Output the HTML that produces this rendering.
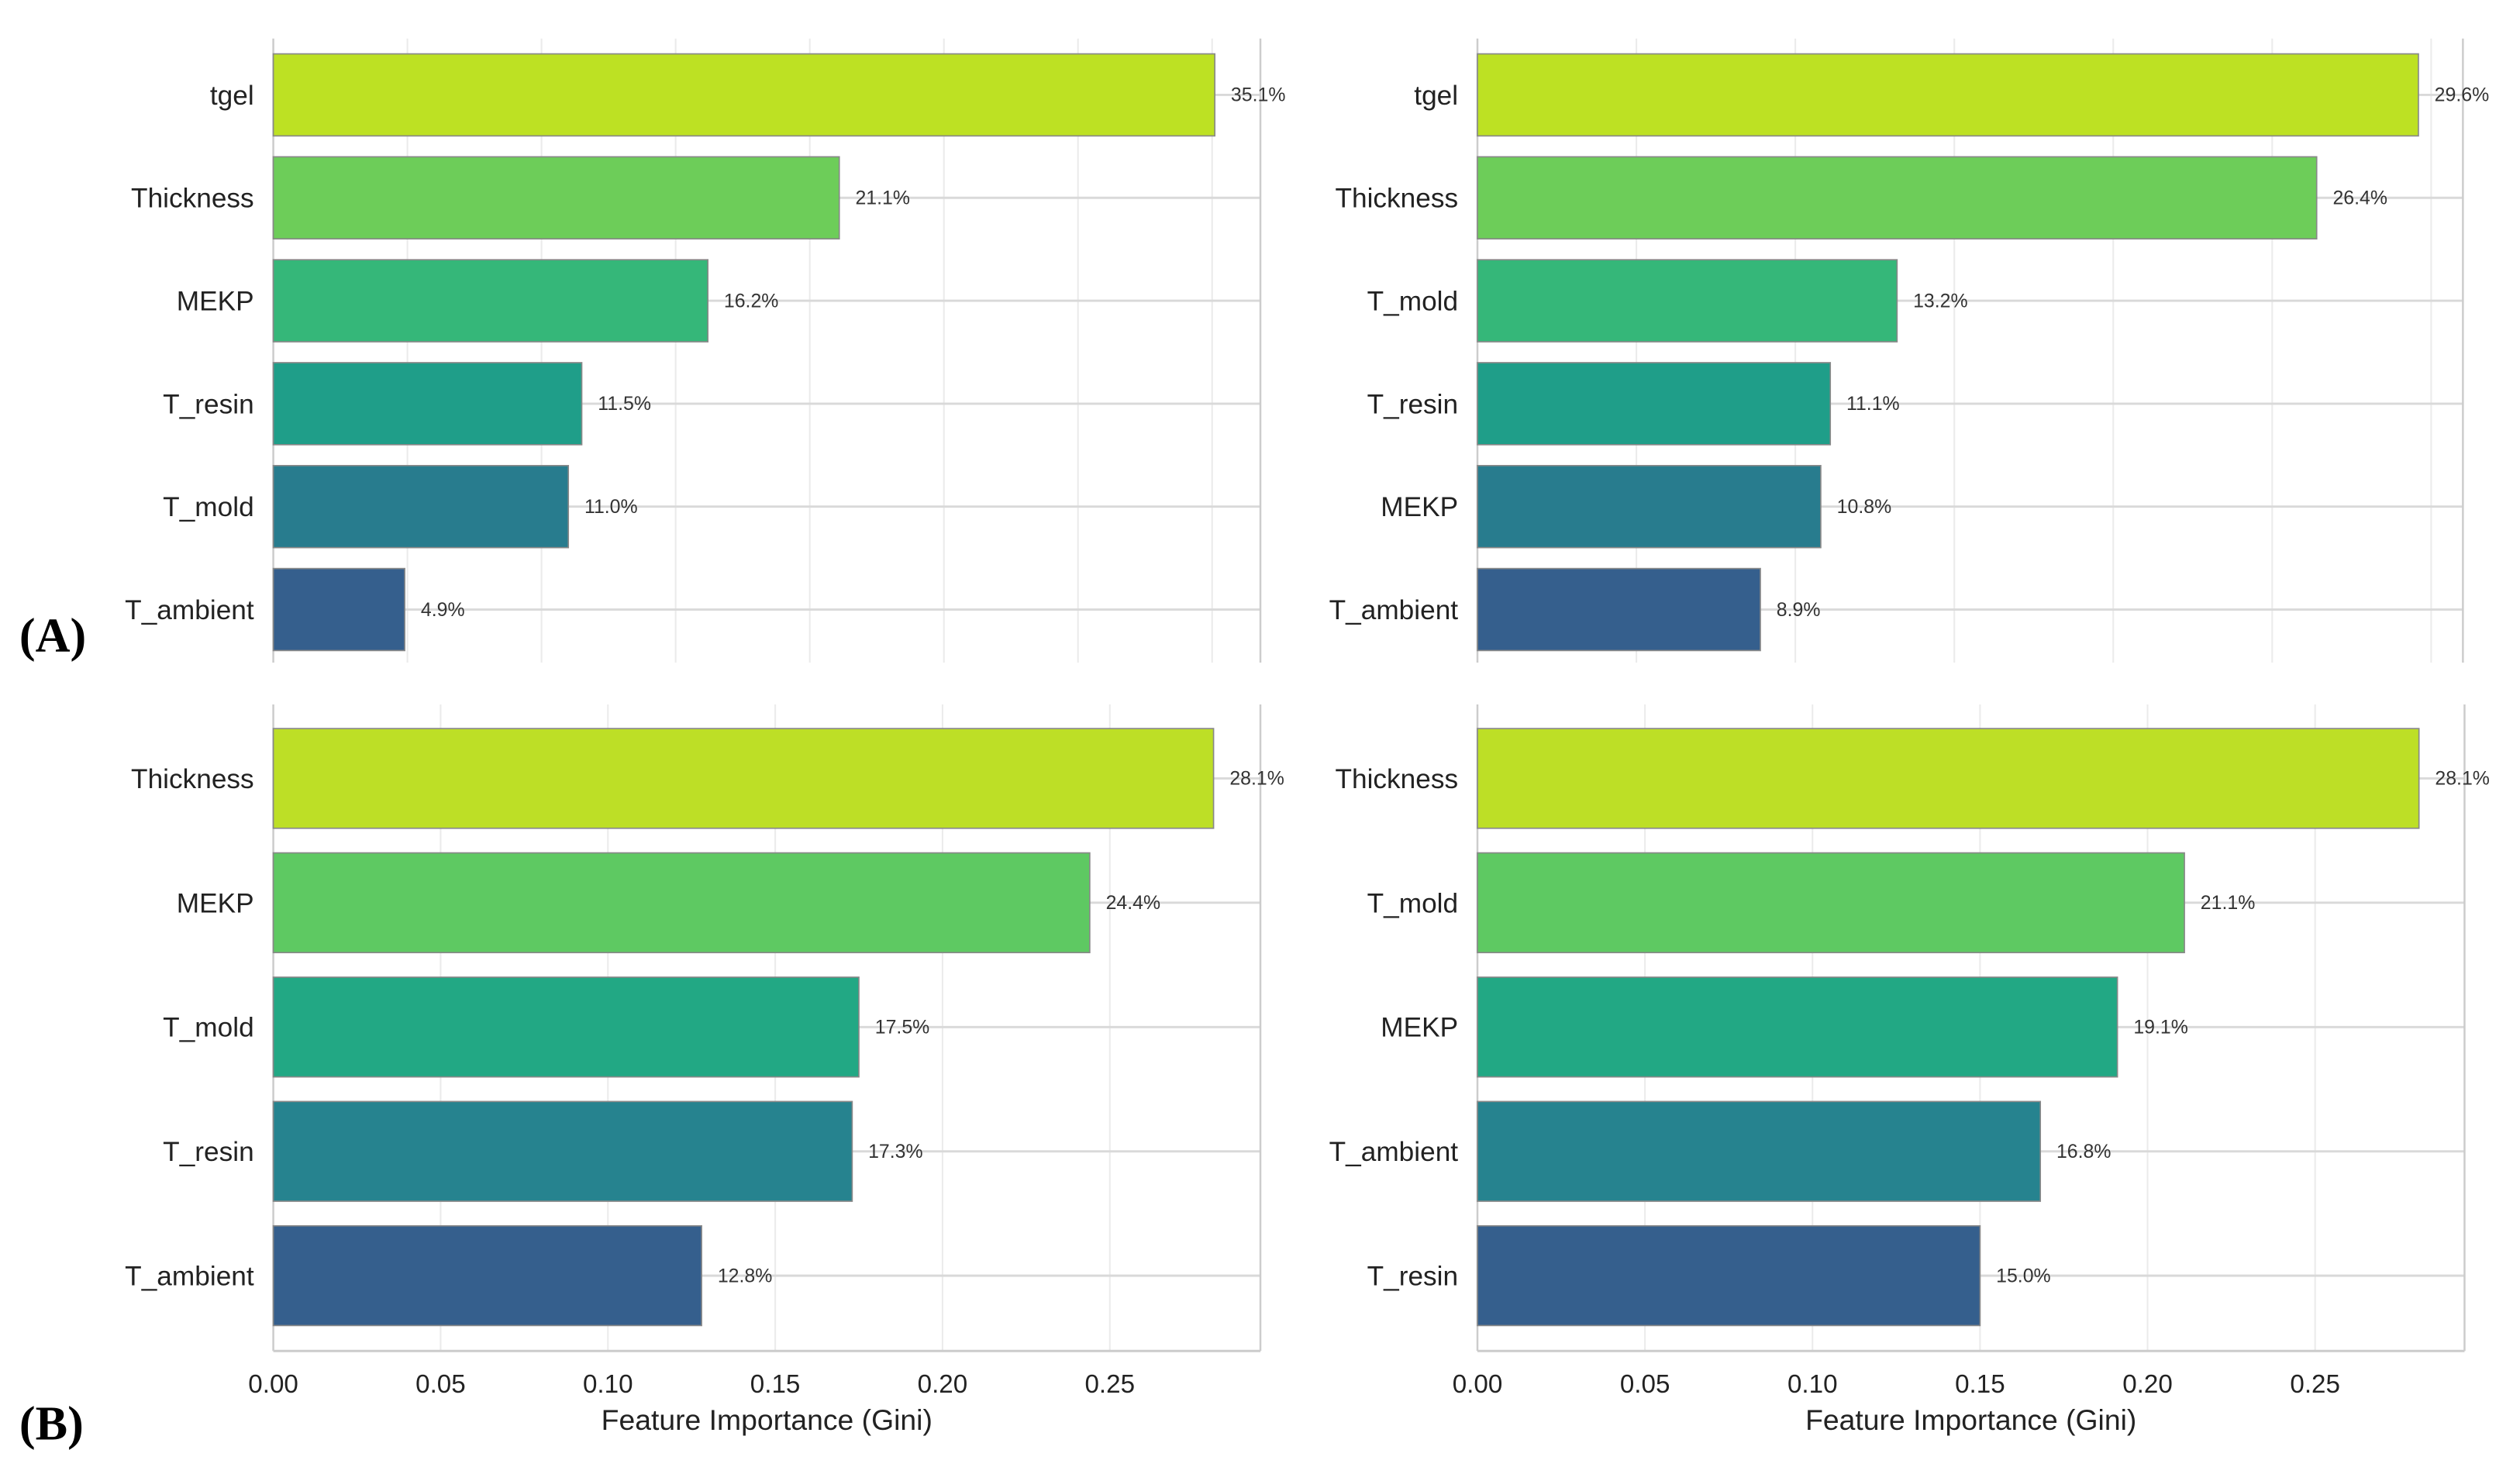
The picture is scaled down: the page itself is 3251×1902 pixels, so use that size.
<!DOCTYPE html>
<html><head><meta charset="utf-8"><style>
html,body{margin:0;padding:0;background:#fff;}
svg{display:block;font-family:"Liberation Sans",Arial,sans-serif;}
</style></head><body>
<svg id="chart" width="3251" height="1902" viewBox="0 0 1567.5 916.5" preserveAspectRatio="none" xmlns="http://www.w3.org/2000/svg">
<text x="12" y="405" font-family="Liberation Serif,serif" font-weight="bold" font-size="30" fill="#000">(A)</text>
<text x="12" y="895" font-family="Liberation Serif,serif" font-weight="bold" font-size="30" fill="#000">(B)</text>
</svg>
<script>
const tlCategories = ["tgel","Thickness","MEKP","T_resin","T_mold","T_ambient"];
const tlValues = [0.351,0.211,0.162,0.115,0.110,0.049];
const trCategories = ["tgel","Thickness","T_mold","T_resin","MEKP","T_ambient"];
const trValues = [0.296,0.264,0.132,0.111,0.108,0.089];
const blCategories = ["Thickness","MEKP","T_mold","T_resin","T_ambient"];
const blValues = [0.281,0.244,0.175,0.173,0.128];
const brCategories = ["Thickness","T_mold","MEKP","T_ambient","T_resin"];
const brValues = [0.281,0.211,0.191,0.168,0.150];
const tickValues = [0,0.05,0.10,0.15,0.20,0.25];
const tickLabels = ["0.00","0.05","0.10","0.15","0.20","0.25"];
const xTitle = "Feature Importance (Gini)";

const colors6 = ["#bde123","#6dcd59","#35b779","#1f9e89","#287c8e","#355f8d"];
const colors5 = ["#bddf26","#5ec962","#22a884","#26838f","#355f8d"];
const NS = "http://www.w3.org/2000/svg";
const svg = document.getElementById('chart');
function mk(tag, attrs, parent){const e=document.createElementNS(NS,tag);for(const k in attrs)e.setAttribute(k,attrs[k]);(parent||svg).appendChild(e);return e;}

function panel(id, cats, vals, colors, x0, x1, y0, y1, xmax, c0, step, barH, showTicks){
  const g = mk('g',{});
  
  
  const xs = v => x0 + v/xmax*(x1-x0);
  for(let t=0.05;t<xmax;t+=0.05){
    const gl = mk('line',{x1:xs(t),x2:xs(t),y1:y0,y2:y1,stroke:'#ebebeb','stroke-width':1},g);
    
    
  }
  cats.forEach((c,i)=>{
    const cy = c0 + step*i;
    const hl = mk('line',{x1:x0,x2:x1,y1:cy,y2:cy,stroke:'#d9d9d9','stroke-width':1.4},g);
    
    
  });
  const sl = mk('line',{x1:x0,x2:x0,y1:y0,y2:y1,stroke:'#cccccc','stroke-width':1.2},g);
  
  
  const sr = mk('line',{x1:x1,x2:x1,y1:y0,y2:y1,stroke:'#cccccc','stroke-width':1.2},g);
  
  
  if(showTicks){
    const sb = mk('line',{x1:x0,x2:x1,y1:y1,y2:y1,stroke:'#cccccc','stroke-width':1.4},g);
    
    
  }
  cats.forEach((c,i)=>{
    const cy = c0 + step*i;
    const r = mk('rect',{x:x0,y:cy-barH/2,width:xs(vals[i])-x0,height:barH,fill:colors[i],stroke:'#888','stroke-width':0.8},g);
    
    
    const lab = mk('text',{x:x0-12,y:cy+6,'text-anchor':'end','font-size':17,fill:'#222'},g);
    lab.textContent = c;
    
    
    const vl = mk('text',{x:xs(vals[i])+10,y:cy+4,'font-size':12,fill:'#333'},g);
    vl.textContent = (vals[i]*100).toFixed(1)+'%';
    
    
  });
  if(showTicks){
    tickValues.forEach((t,i)=>{
      const tl = mk('text',{x:xs(t),y:866,'text-anchor':'middle','font-size':16,fill:'#222'},g);
      tl.textContent = tickLabels[i];
      
      
    });
    const at = mk('text',{x:(x0+x1)/2,y:889,'text-anchor':'middle','font-size':18,fill:'#222'},g);
    at.textContent = xTitle;
    
    
  }
}
panel('panel-a-left', tlCategories, tlValues, colors6, 170, 784, 24, 412, 0.368, 59, 64, 51, false);
panel('panel-a-right', trCategories, trValues, colors6, 919, 1532, 24, 412, 0.310, 59, 64, 51, false);
panel('panel-b-left', blCategories, blValues, colors5, 170, 784, 438, 840, 0.295, 484, 77.3, 62, true);
panel('panel-b-right', brCategories, brValues, colors5, 919, 1533, 438, 840, 0.2946, 484, 77.3, 62, true);
</script>
</body></html>
